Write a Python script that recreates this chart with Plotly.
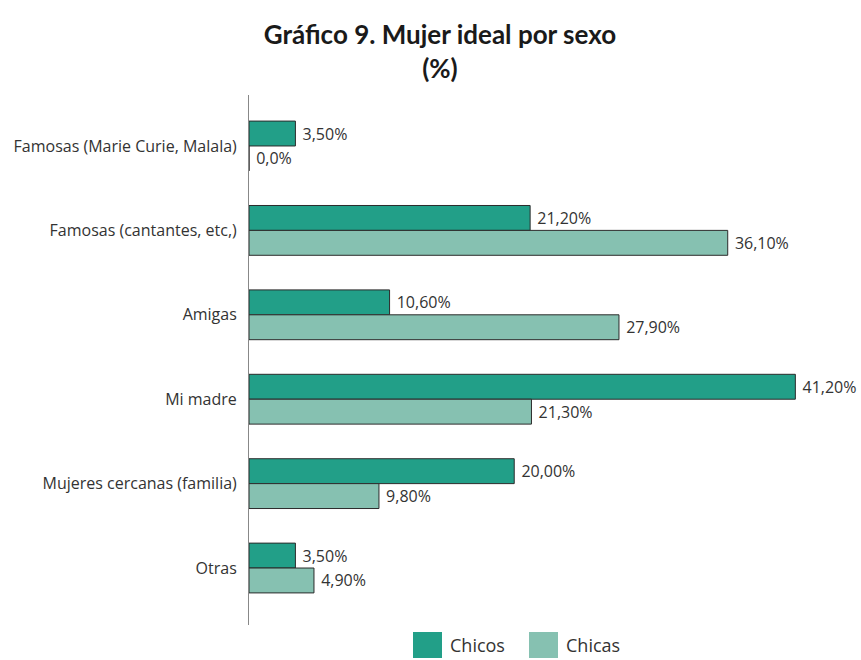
import plotly.graph_objects as go

categories = ["Famosas (Marie Curie, Malala)", "Famosas (cantantes, etc,)", "Amigas",
              "Mi madre", "Mujeres cercanas (familia)", "Otras"]
chicos = [3.5, 21.2, 10.6, 41.2, 20.0, 3.5]
chicas = [0.0, 36.1, 27.9, 21.3, 9.8, 4.9]
chicos_labels = ["3,50%", "21,20%", "10,60%", "41,20%", "20,00%", "3,50%"]
chicas_labels = ["0,0%", "36,10%", "27,90%", "21,30%", "9,80%", "4,90%"]
series_names = ["Chicos", "Chicas"]
colors = ["#229f88", "#86c1b1"]

FONT = "'Open Sans', 'Noto Sans', sans-serif"
TFONT = "Lato, 'Open Sans', sans-serif"

fig = go.Figure()
for name, vals, labels, col in zip(series_names, [chicos, chicas],
                                   [chicos_labels, chicas_labels], colors):
    fig.add_trace(go.Bar(
        y=categories, x=vals, name=name, orientation="h",
        marker=dict(color=col, line=dict(color="#2b2b2b", width=1)),
        text=labels, texttemplate=" %{text}", textposition="outside",
        cliponaxis=False,
        textfont=dict(family=FONT, size=16, color="#333333"),
        showlegend=False, hoverinfo="x+y",
    ))

# legend drawn manually (large swatches)
legend_items = [(413, 442, 448), (529, 558, 564)]
shapes = []
annotations = []
for (x0, x1, tx), name, col in zip(legend_items, series_names, colors):
    shapes.append(dict(type="rect", xref="paper", yref="paper",
                       x0=(x0 - 249) / 610, x1=(x1 - 249) / 610,
                       y0=-(632 - 625) / 530, y1=-(658 - 625) / 530,
                       fillcolor=col, line=dict(width=0)))
    annotations.append(dict(xref="paper", yref="paper", x=(tx - 249) / 610,
                            y=-(645 - 625) / 530, xanchor="left", yanchor="middle",
                            text=name, showarrow=False,
                            font=dict(family=FONT, size=18, color="#333333")))

fig.update_layout(
    width=861, height=660,
    margin=dict(l=249, r=2, t=95, b=35, autoexpand=False),
    paper_bgcolor="white", plot_bgcolor="white",
    barmode="group", bargap=0.41, bargroupgap=0,
    title=dict(text="<b>Gráfico 9. Mujer ideal por sexo<br>(%)</b>",
               x=0.511, xanchor="center", y=0.933, yanchor="top",
               font=dict(family=TFONT, size=26, color="#1a1a1a")),
    xaxis=dict(range=[0, 46], visible=False, showgrid=False, zeroline=False,
               automargin=False),
    yaxis=dict(categoryorder="array", categoryarray=categories,
               range=[5.675, -0.604], showline=True, linecolor="#888888",
               linewidth=1, ticks="", showgrid=False, ticklabelstandoff=8,
               automargin=False,
               tickfont=dict(family=FONT, size=16, color="#333333")),
    shapes=shapes, annotations=annotations,
)

fig.write_html("out.html", config={"displayModeBar": False},
               post_script="document.body.style.margin='0';")
